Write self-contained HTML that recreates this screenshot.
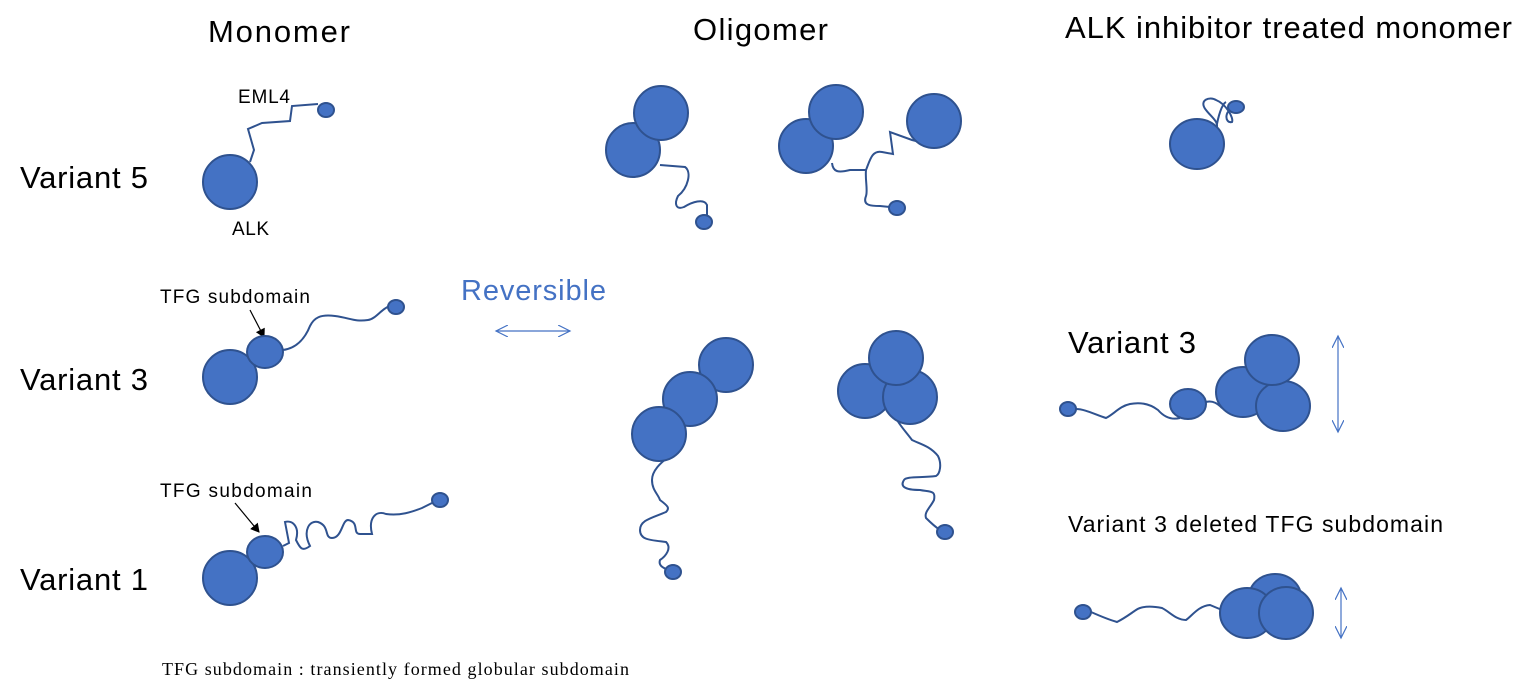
<!DOCTYPE html>
<html><head><meta charset="utf-8"><style>body{margin:0;background:#fff}svg{display:block}</style></head>
<body>
<svg width="1532" height="683" viewBox="0 0 1532 683" xmlns="http://www.w3.org/2000/svg" font-family="Liberation Sans, sans-serif">
<defs>
<marker id="ah" markerWidth="10" markerHeight="10" refX="8" refY="5" orient="auto" markerUnits="userSpaceOnUse"><path d="M0,0 L9,5 L0,10 z" fill="#000"/></marker>
<marker id="oa" markerWidth="14" markerHeight="12" refX="12" refY="6" orient="auto-start-reverse" markerUnits="userSpaceOnUse"><path d="M0,0 L12,6 L0,12" fill="none" stroke="#4472C4" stroke-width="1.2"/></marker>
</defs>
<g font-size="31" fill="#000">
<text x="208" y="42" textLength="142">Monomer</text>
<text x="693" y="40" textLength="135">Oligomer</text>
<text x="1065" y="38" textLength="447">ALK inhibitor treated monomer</text>
<text x="20" y="188" textLength="128">Variant 5</text>
<text x="20" y="390" textLength="128">Variant 3</text>
<text x="20" y="590" textLength="128">Variant 1</text>
<text x="1068" y="353" textLength="128">Variant 3</text>
</g>
<text x="1068" y="532" font-size="23" textLength="375">Variant 3 deleted TFG subdomain</text>
<g font-size="19">
<text x="238" y="103" textLength="52">EML4</text>
<text x="232" y="235" textLength="37">ALK</text>
<text x="160" y="303" textLength="150">TFG subdomain</text>
<text x="160" y="497" textLength="152">TFG subdomain</text>
</g>
<text x="461" y="300" font-size="29" fill="#4472C4" textLength="145">Reversible</text>
<text x="162" y="675" font-size="18" font-family="Liberation Serif, serif" textLength="467">TFG subdomain : transiently formed globular subdomain</text>

<line x1="250" y1="310" x2="264" y2="337" stroke="#000" stroke-width="1.2" marker-end="url(#ah)"/>
<line x1="235" y1="503" x2="259" y2="532" stroke="#000" stroke-width="1.2" marker-end="url(#ah)"/>
<line x1="496" y1="331" x2="570" y2="331" stroke="#4472C4" stroke-width="1.2" marker-start="url(#oa)" marker-end="url(#oa)"/>
<line x1="1338" y1="336" x2="1338" y2="432" stroke="#4472C4" stroke-width="1.2" marker-start="url(#oa)" marker-end="url(#oa)"/>
<line x1="1341" y1="588" x2="1341" y2="638" stroke="#4472C4" stroke-width="1.2" marker-start="url(#oa)" marker-end="url(#oa)"/>

<g fill="none" stroke="#2F528F" stroke-width="2">
<path d="M250,162 L254,150 L248,129 L262,123 L290,121 L292,106 L318,104"/>
<path d="M283,350 C298,348 306,336 310,326 C314,318 320,314 335,316 C350,318 355,322 368,320 C376,319 382,308 390,306"/>
<path d="M283,546 L289,543 L285,522 C292,520 300,526 296,540 C300,548 302,552 310,546 C302,530 310,520 318,522 C330,526 324,538 332,538 C342,538 342,520 348,520 C360,522 352,534 360,534 L372,534 C368,518 376,510 386,514 C400,516 412,512 422,508 L434,502"/>
<path d="M660,165 L685,167 C692,172 688,188 678,196 C674,204 676,210 684,207 C692,202 704,198 707,205 L707,215"/>
<path d="M832,163 C833,172 838,173 850,170 L866,170 C870,160 872,150 882,152 L893,154 L890,132 L912,140 L920,142 M866,170 C865,180 868,190 866,196 C862,206 872,206 880,206 L890,207"/>
<path d="M668,457 C662,462 652,470 652,480 C652,490 658,494 660,500 C668,506 670,508 666,512 C652,518 640,520 640,530 C640,540 650,540 666,542 C672,548 666,556 660,560 C658,566 664,568 668,570"/>
<path d="M897,420 C902,428 906,432 912,440 C920,444 930,446 938,456 C942,464 940,474 936,476 C922,478 906,476 904,480 C900,486 904,490 920,490 C930,492 936,490 934,500 C930,508 924,512 926,518 C930,522 934,526 940,530"/>
<path d="M1216,130 C1220,122 1212,118 1206,110 C1198,100 1210,96 1216,100 C1226,104 1234,118 1232,122 C1224,124 1224,108 1236,108 M1216,130 C1218,116 1222,104 1226,102"/>
<path d="M1076,409 C1085,409 1096,415 1106,418 C1114,414 1120,406 1130,404 C1140,402 1150,404 1158,410 C1165,418 1172,420 1180,418 M1206,402 C1213,400 1218,404 1222,408"/>
<path d="M1091,612 C1100,616 1110,620 1117,622 C1125,618 1130,614 1136,610 C1142,606 1152,606 1162,608 C1170,612 1176,620 1186,620 C1192,616 1198,606 1210,605 L1222,610"/>
</g>

<g fill="#4472C4" stroke="#2F528F" stroke-width="2">
<circle cx="230" cy="182" r="27"/>
<ellipse cx="326" cy="110" rx="8" ry="7"/>
<circle cx="230" cy="377" r="27"/>
<ellipse cx="265" cy="352" rx="18" ry="16"/>
<ellipse cx="396" cy="307" rx="8" ry="7"/>
<circle cx="230" cy="578" r="27"/>
<ellipse cx="265" cy="552" rx="18" ry="16"/>
<ellipse cx="440" cy="500" rx="8" ry="7"/>

<circle cx="633" cy="150" r="27"/>
<circle cx="661" cy="113" r="27"/>
<ellipse cx="704" cy="222" rx="8" ry="7"/>
<circle cx="806" cy="146" r="27"/>
<circle cx="836" cy="112" r="27"/>
<circle cx="934" cy="121" r="27"/>
<ellipse cx="897" cy="208" rx="8" ry="7"/>

<circle cx="726" cy="365" r="27"/>
<circle cx="690" cy="399" r="27"/>
<circle cx="659" cy="434" r="27"/>
<ellipse cx="673" cy="572" rx="8" ry="7"/>
<circle cx="865" cy="391" r="27"/>
<circle cx="910" cy="397" r="27"/>
<circle cx="896" cy="358" r="27"/>
<ellipse cx="945" cy="532" rx="8" ry="7"/>

<ellipse cx="1197" cy="144" rx="27" ry="25"/>
<ellipse cx="1236" cy="107" rx="8" ry="6"/>

<ellipse cx="1068" cy="409" rx="8" ry="7"/>
<ellipse cx="1188" cy="404" rx="18" ry="15"/>
<ellipse cx="1243" cy="392" rx="27" ry="25"/>
<ellipse cx="1283" cy="406" rx="27" ry="25"/>
<ellipse cx="1272" cy="360" rx="27" ry="25"/>

<ellipse cx="1083" cy="612" rx="8" ry="7"/>
<ellipse cx="1275" cy="597" rx="26" ry="23"/>
<ellipse cx="1247" cy="613" rx="27" ry="25"/>
<ellipse cx="1286" cy="613" rx="27" ry="26"/>
</g>
</svg>
</body></html>
